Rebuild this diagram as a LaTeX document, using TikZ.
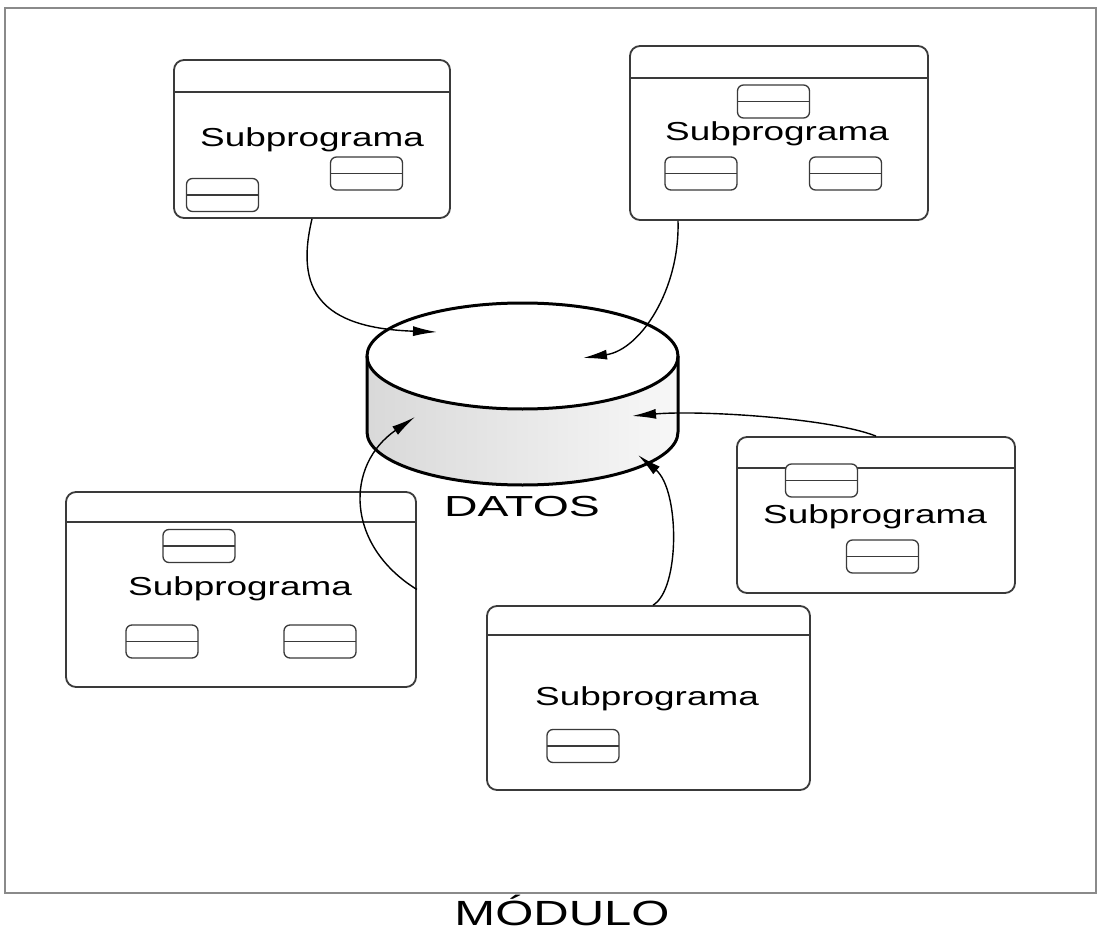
\documentclass[tikz,border=0pt]{standalone}
\usepackage{fontspec}
\setmainfont{Liberation Sans}
\newfontfamily\subfont[FakeStretch=1.42]{Liberation Sans}
\newfontfamily\datosfont[FakeStretch=1.6]{Liberation Sans}
\newfontfamily\modfont[FakeStretch=1.4]{Liberation Sans}
\usetikzlibrary{arrows.meta,calc}
\definecolor{boxgray}{HTML}{3A3A3A}
\definecolor{framegray}{HTML}{8A8A8A}
\tikzset{
  subbox/.style={draw=boxgray, line width=1.8pt, rounded corners=10pt, inner sep=0pt, fill=white},
  header/.style={draw=boxgray, line width=1.8pt},
  comp/.style={draw=boxgray, fill=white, line width=1.3pt, rounded corners=6pt,
    minimum width=72pt, minimum height=33pt, inner sep=0pt,
    path picture={\draw[boxgray, line width=1.3pt]
      (path picture bounding box.west) -- (path picture bounding box.east);}},
  lbl/.style={font=\subfont\fontsize{26}{30}\selectfont, inner sep=0pt, anchor=base},
  flow/.style={draw=black, line width=1.4pt, -{Latex[length=24pt,width=10pt]}},
  cyl/.style={draw=black, line width=3pt}
}
\begin{document}
\begin{tikzpicture}[x=1pt,y=-1pt]
  \useasboundingbox (0,0) rectangle (1097,933);
  % module frame
  \draw[framegray, line width=1.6pt] (5,8) rectangle (1096,893);
  \node[font=\modfont\fontsize{35}{40}\selectfont, inner sep=0pt, anchor=base] (modulo) at (562,925) {MÓDULO};

  % subprogram boxes
  \node[subbox, minimum width=276pt, minimum height=158pt] (tl) at (312,139) {};
  \node[subbox, minimum width=298pt, minimum height=174pt] (tr) at (779,133) {};
  \node[subbox, minimum width=278pt, minimum height=156pt] (rb) at (876,515) {};
  \node[subbox, minimum width=350pt, minimum height=195pt] (ll) at (241,589.5) {};
  \node[subbox, minimum width=323pt, minimum height=184pt] (bb) at (648.5,698) {};

  % header bars
  \draw[header] (tl.west |- 0,92) -- (tl.east |- 0,92);
  \draw[header] (tr.west |- 0,78) -- (tr.east |- 0,78);
  \draw[header] (rb.west |- 0,468) -- (rb.east |- 0,468);
  \draw[header] (ll.west |- 0,522) -- (ll.east |- 0,522);
  \draw[header] (bb.west |- 0,635) -- (bb.east |- 0,635);

  % labels
  \node[lbl] (tlt) at (312,147) {Subprograma};
  \node[lbl] (trt) at (777,141) {Subprograma};
  \node[lbl] (rbt) at (875,523) {Subprograma};
  \node[lbl] (llt) at (240,595) {Subprograma};
  \node[lbl] (bbt) at (647,705) {Subprograma};

  % components inside each subprogram
  \node[comp] (tl1) at (222.5,195) {};
  \node[comp] (tl2) at (366.5,173.5) {};
  \node[comp] (tr1) at (773.5,101.5) {};
  \node[comp] (tr2) at (701,173.5) {};
  \node[comp] (tr3) at (845.5,173.5) {};
  \node[comp] (rb1) at (821.5,480.5) {};
  \node[comp] (rb2) at (882.5,556.5) {};
  \node[comp] (ll1) at (199,546) {};
  \node[comp] (ll2) at (162,641.5) {};
  \node[comp] (ll3) at (320,641.5) {};
  \node[comp] (bb1) at (583,746) {};

  % data store cylinder
  \path[left color=gray!30, right color=gray!6]
    (367,356) -- (367,432)
    .. controls (367,461.3) and (436.6,485) .. (522.5,485)
    .. controls (608.4,485) and (678,461.3) .. (678,432)
    -- (678,356)
    .. controls (678,385.3) and (608.4,409) .. (522.5,409)
    .. controls (436.6,409) and (367,385.3) .. (367,356) -- cycle;
  \draw[cyl, fill=white] (522.5,356) ellipse [x radius=155.5, y radius=53];
  \draw[cyl] (367,356) -- (367,432)
    .. controls (367,461.3) and (436.6,485) .. (522.5,485)
    .. controls (608.4,485) and (678,461.3) .. (678,432) -- (678,356);
  \node[font=\datosfont\fontsize{29}{34}\selectfont, inner sep=0pt, anchor=base] (datos) at (522,516) {DATOS};

  % arrow targets on the cylinder
  \coordinate (d1) at (437,332);
  \coordinate (d2) at (583,358);
  \coordinate (d3) at (632,416);
  \coordinate (d4) at (638,455);
  \coordinate (d5) at (415,417);

  % data flows
  \draw[flow] (tl.south) .. controls (295,290) and (320,328) .. (d1);
  \draw[flow] ([xshift=-101pt]tr.south) .. controls (680,290) and (640,350) .. (d2);
  \draw[flow] (rb.north) .. controls (830,418) and (700,410) .. (d3);
  \draw[flow] ([xshift=4.5pt]bb.north) .. controls (680,590) and (680,490) .. (d4);
  \draw[flow] (ll.east) .. controls (345,545) and (345,465) .. (d5);
\end{tikzpicture}
\end{document}
